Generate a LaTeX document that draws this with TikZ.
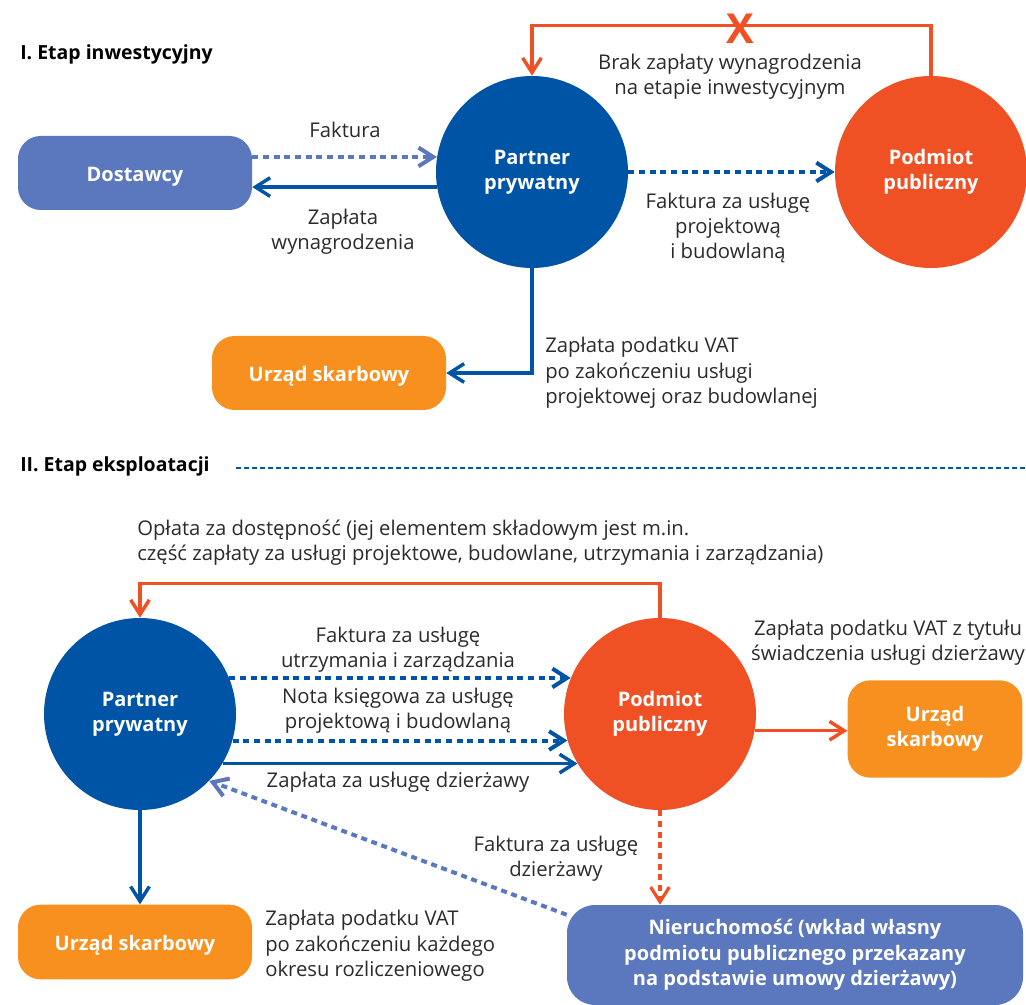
\documentclass[tikz,border=0pt]{standalone}
\usepackage{fontspec}
\setmainfont{Open Sans}
\usetikzlibrary{arrows.meta,calc}
\definecolor{navy}{HTML}{0054A6}
\definecolor{periw}{HTML}{5B78BE}
\definecolor{tomato}{HTML}{EF5124}
\definecolor{amber}{HTML}{F7901E}
\definecolor{ink}{HTML}{2B2B2B}
\begin{document}
\begin{tikzpicture}[x=0.75pt,y=-0.75pt,
  font=\fontsize{15.2}{19}\selectfont,
  every node/.style={text=ink},
  disc/.style={circle,minimum size=144pt,inner sep=0pt,align=center,text=white,font=\fontsize{15}{19}\selectfont\bfseries},
  pill/.style={rounded corners=17pt,inner sep=0pt,align=center,text=white,font=\fontsize{15}{19}\selectfont\bfseries},
  oneline/.style={text height=12.4pt,text depth=0pt},
  lbl/.style={align=center,inner sep=0pt},
  tip/.style={-{Straight Barb[length=11pt,width=14pt]}},
  solidflow/.style={tip,line width=2.6pt},
  dotflow/.style={tip,line width=3pt,dash pattern=on 4.5pt off 3.5pt},
  heading/.style={anchor=west,inner sep=0pt,font=\fontsize{14.6}{17}\selectfont\bfseries,text=black}
]
\useasboundingbox (0,0) rectangle (1026,1005);

% ---------- Stage I ----------
\node[heading] (h1) at (20,54) {I. Etap inwestycyjny};

\node[pill,oneline,fill=periw,minimum width=175.5pt,minimum height=55.5pt] (dost) at (135,173) {Dostawcy};
\node[disc,fill=navy] (p1) at (532,172) {Partner\\prywatny};
\node[disc,fill=tomato] (pod1) at (931,172) {Podmiot\\publiczny};
\node[pill,oneline,fill=amber,minimum width=175.5pt,minimum height=55.5pt] (urz1) at (329,373) {Urząd skarbowy};

\draw[dotflow,periw] (dost.east |- p1.171) -- (p1.171);
\draw[solidflow,navy] (p1.189) -- (dost.east |- p1.189);
\draw[dotflow,navy] (p1.east) -- (pod1.west);
\draw[solidflow,tomato] (pod1.north) -- ++(0,-50) -| (p1.north);
\draw[solidflow,navy] (p1.south) |- (urz1.east);

\node[font=\fontsize{31}{31}\selectfont\bfseries,text=tomato,inner sep=0pt] (cross) at (740,29) {X};

\node[lbl] (l1) at (345,130) {Faktura};
\node[lbl] (l2) at (343,232) {Zapłata\\wynagrodzenia};
\node[lbl] (l3) at (730,77) {Brak zapłaty wynagrodzenia\\na etapie inwestycyjnym};
\node[lbl] (l4) at (728,228) {Faktura za usługę\\projektową\\i budowlaną};
\node[lbl,anchor=west,align=left] (l5) at (545,373) {Zapłata podatku VAT\\po zakończeniu usługi\\projektowej oraz budowlanej};

% ---------- Stage II ----------
\node[heading] (h2) at (20,466) {II. Etap eksploatacji};
\coordinate (sepA) at (236,468);
\coordinate (sepB) at (1026,468);
\draw[navy,line width=0.8pt,dash pattern=on 3.75pt off 2.25pt] (sepA) -- (sepB);

\node[disc,fill=navy] (p2) at (140,714) {Partner\\prywatny};
\node[disc,fill=tomato] (pod2) at (660,714) {Podmiot\\publiczny};
\node[pill,fill=amber,minimum width=131pt,minimum height=73pt] (urz2) at (935,729) {Urząd\\skarbowy};
\node[pill,oneline,fill=amber,minimum width=175.5pt,minimum height=56pt] (urz3) at (135,942) {Urząd skarbowy};
\node[pill,fill=periw,rounded corners=21pt,minimum width=342pt,minimum height=75pt] (nier) at (795,955) {Nieruchomość (wkład własny\\podmiotu publicznego przekazany\\na podstawie umowy dzierżawy)};

\draw[solidflow,tomato] (pod2.north) -- ++(0,-34) -| (p2.north);
\draw[dotflow,navy] (p2.22) -- (pod2.158);
\draw[dotflow,navy] (p2.-16) -- (pod2.196);
\draw[solidflow,navy] (p2.-31) -- (pod2.211);
\draw[solidflow,tomato] (pod2.-10) -- (urz2.west |- pod2.-10);
\draw[dotflow,tomato,line width=2.4pt] (pod2.south) -- (pod2.south |- nier.north);
\draw[dotflow,periw] (nier.170) -- (p2.-44);
\draw[solidflow,navy] (p2.south) -- (p2.south |- urz3.north);

\node[lbl,anchor=west,align=left] (l6) at (137,543) {Opłata za dostępność (jej elementem składowym jest m.in.\\część zapłaty za usługi projektowe, budowlane, utrzymania i zarządzania)};
\node[lbl] (l7) at (398,650) {Faktura za usługę\\utrzymania i zarządzania};
\node[lbl] (l8) at (398,711) {Nota księgowa za usługę\\projektową i budowlaną};
\node[lbl] (l9) at (398,782) {Zapłata za usługę dzierżawy};
\node[lbl] (l10) at (888,643) {Zapłata podatku VAT z tytułu\\świadczenia usługi dzierżawy};
\node[lbl] (l11) at (556,859) {Faktura za usługę\\dzierżawy};
\node[lbl,anchor=west,align=left] (l12) at (265,946) {Zapłata podatku VAT\\po zakończeniu każdego\\okresu rozliczeniowego};
\end{tikzpicture}
\end{document}
